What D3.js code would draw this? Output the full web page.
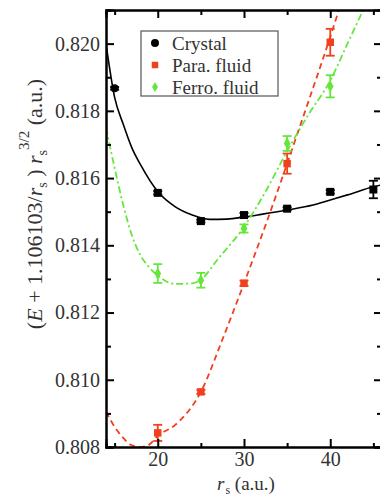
<!DOCTYPE html>
<html><head><meta charset="utf-8">
<script src="https://cdn.jsdelivr.net/npm/d3@7"></script>
<style>body{margin:0;background:#fff} svg{display:block}</style>
</head><body><svg id="c" width="380" height="496"></svg>
<script>
// ---- data ----
const crystalRs = [15, 20, 25, 30, 35, 40, 45];
const crystalVal = [0.81867, 0.81556, 0.81472, 0.81490, 0.81509, 0.81559, 0.81566];
const crystalErr = [0.00004, 0.00005, 0.00004, 0.00006, 0.00004, 0.00005, 0.00026];
const paraRs = [20, 25, 30, 35, 40];
const paraVal = [0.80842, 0.80964, 0.81287, 0.81643, 0.82004];
const paraErr = [0.00024, 0.00006, 0.00008, 0.00030, 0.00040];
const ferroRs = [20, 25, 30, 35, 40];
const ferroVal = [0.81316, 0.81296, 0.81450, 0.81703, 0.81873];
const ferroErr = [0.00028, 0.00022, 0.00012, 0.00022, 0.00033];

// fit curves
const crystalFitRs = [14, 15, 16, 17, 18, 20, 22, 24, 26, 28, 30, 32, 35, 38, 40, 42, 45, 46];
const crystalFitVal = [0.8200, 0.8184, 0.8176, 0.8169, 0.8164, 0.8156, 0.81515, 0.8149, 0.81477, 0.81478, 0.81484, 0.81492, 0.81505, 0.8152, 0.81535, 0.8155, 0.81574, 0.8158];
const paraFitRs = [14, 15, 16, 17, 18, 19, 20, 22, 25, 27.5, 30, 32.5, 35, 37.5, 40, 41];
const paraFitVal = [0.80905, 0.8086, 0.80827, 0.80805, 0.8080, 0.80807, 0.80833, 0.80865, 0.80964, 0.8112, 0.81287, 0.8146, 0.81643, 0.8183, 0.8202, 0.8210];
const ferroFitRs = [14, 15, 16, 17, 18, 19, 20, 22, 24, 25, 27, 30, 32.5, 35, 37.5, 40, 42, 44];
const ferroFitVal = [0.8175, 0.8163, 0.8152, 0.8143, 0.8137, 0.81335, 0.8131, 0.81285, 0.81287, 0.81298, 0.8136, 0.81455, 0.8156, 0.8168, 0.8179, 0.8189, 0.8200, 0.8211];

const xTicksMajor = [20, 30, 40];
const xTicksMinor = [15, 25, 35, 45];
const yTicksMajor = [0.808, 0.810, 0.812, 0.814, 0.816, 0.818, 0.820];
const yTicksMinor = [0.809, 0.811, 0.813, 0.815, 0.817, 0.819];
const legendLabels = ["Crystal", "Para. fluid", "Ferro. fluid"];

const RED = "#f0401e", GREEN = "#66e63c", BLACK = "#000";
const FONT = '"Liberation Serif","DejaVu Serif","Times New Roman",serif';

// ---- layout ----
const L = 106, R = 382, T = 10, B = 447;
const svg = d3.select("#c");
const x = d3.scaleLinear().domain([14, 46]).range([L, R]);
const y = d3.scaleLinear().domain([0.808, 0.821]).range([B, T]);

svg.append("defs").append("clipPath").attr("id", "clip")
  .append("rect").attr("x", L).attr("y", T).attr("width", R - L).attr("height", B - T);

const plot = svg.append("g").attr("clip-path", "url(#clip)");
const line = d3.line().x(d => x(d[0])).y(d => y(d[1])).curve(d3.curveMonotoneX);

plot.append("path").datum(crystalFitRs.map((r, i) => [r, crystalFitVal[i]]))
  .attr("d", line).attr("fill", "none").attr("stroke", BLACK).attr("stroke-width", 1.6);
plot.append("path").datum(paraFitRs.map((r, i) => [r, paraFitVal[i]]))
  .attr("d", line).attr("fill", "none").attr("stroke", RED).attr("stroke-width", 1.8)
  .attr("stroke-dasharray", "6,4");
plot.append("path").datum(ferroFitRs.map((r, i) => [r, ferroFitVal[i]]))
  .attr("d", line).attr("fill", "none").attr("stroke", GREEN).attr("stroke-width", 1.8)
  .attr("stroke-dasharray", "7,3,2,3");

function errorBars(rs, vals, errs, color) {
  const g = plot.append("g").attr("stroke", color).attr("stroke-width", 1.8);
  rs.forEach((r, i) => {
    const cx = x(r), y0 = y(vals[i] - errs[i]), y1 = y(vals[i] + errs[i]);
    g.append("line").attr("x1", cx).attr("x2", cx).attr("y1", y0).attr("y2", y1);
    g.append("line").attr("x1", cx - 4.5).attr("x2", cx + 4.5).attr("y1", y0).attr("y2", y0);
    g.append("line").attr("x1", cx - 4.5).attr("x2", cx + 4.5).attr("y1", y1).attr("y2", y1);
  });
}
errorBars(paraRs, paraVal, paraErr, RED);
errorBars(ferroRs, ferroVal, ferroErr, GREEN);
errorBars(crystalRs, crystalVal, crystalErr, BLACK);

// markers
plot.selectAll(".cm").data(crystalRs).enter().append("path")
  .attr("d", (r, i) => i === 0 ? d3.symbol(d3.symbolCircle, 50)() : d3.symbol(d3.symbolSquare, 64)())
  .attr("transform", (r, i) => `translate(${x(r)},${y(crystalVal[i])})`).attr("fill", BLACK);
plot.selectAll(".pm").data(paraRs).enter().append("path")
  .attr("d", d3.symbol(d3.symbolSquare, 56)())
  .attr("transform", (r, i) => `translate(${x(r)},${y(paraVal[i])})`).attr("fill", RED);
plot.selectAll(".fm").data(ferroRs).enter().append("path")
  .attr("d", d3.symbol(d3.symbolDiamond, 40)())
  .attr("transform", (r, i) => `translate(${x(r)},${y(ferroVal[i])})`).attr("fill", GREEN);

// ---- axes ----
const ax = svg.append("g");
ax.append("g").attr("transform", `translate(0,${B})`)
  .call(d3.axisBottom(x).tickValues(xTicksMajor).tickSize(-8).tickPadding(5).tickFormat(d3.format("d")));
ax.append("g").attr("transform", `translate(0,${B})`)
  .call(d3.axisBottom(x).tickValues(xTicksMinor).tickSize(-4).tickFormat(""));
ax.append("g").attr("transform", `translate(0,${T})`)
  .call(d3.axisTop(x).tickValues(xTicksMajor).tickSize(-8).tickFormat(""));
ax.append("g").attr("transform", `translate(0,${T})`)
  .call(d3.axisTop(x).tickValues(xTicksMinor).tickSize(-5).tickFormat(""));
ax.append("g").attr("transform", `translate(${L},0)`)
  .call(d3.axisLeft(y).tickValues(yTicksMajor).tickSize(-8).tickPadding(6).tickFormat(d3.format(".3f")));
ax.append("g").attr("transform", `translate(${L},0)`)
  .call(d3.axisLeft(y).tickValues(yTicksMinor).tickSize(-5).tickFormat(""));
ax.append("g").attr("transform", `translate(${R},0)`)
  .call(d3.axisRight(y).tickValues(yTicksMajor).tickSize(-8).tickFormat(""));
ax.append("g").attr("transform", `translate(${R},0)`)
  .call(d3.axisRight(y).tickValues(yTicksMinor).tickSize(-5).tickFormat(""));
ax.selectAll("g").attr("font-family", FONT).attr("font-size", 20);
ax.selectAll(".domain").attr("stroke", "#000").attr("stroke-width", 2);
ax.selectAll(".tick line").attr("stroke", "#000").attr("stroke-width", 2);
ax.selectAll("text").attr("font-family", FONT).attr("font-size", 20).attr("fill", "#333");

// axis titles
const xt = svg.append("text").attr("x", 246).attr("y", 490).attr("text-anchor", "middle")
  .attr("font-family", FONT).attr("font-size", 19).attr("fill", "#333");
xt.append("tspan").attr("font-style", "italic").text("r");
xt.append("tspan").attr("font-size", 12).attr("dx", 1).attr("dy", 4).text("s");
xt.append("tspan").attr("dy", -4).text(" (a.u.)");

const yt = svg.append("text").attr("transform", "translate(42,204) rotate(-90)")
  .attr("text-anchor", "middle").attr("font-family", FONT).attr("font-size", 22).attr("fill", "#333");
yt.append("tspan").text("(");
yt.append("tspan").attr("font-style", "italic").text("E");
yt.append("tspan").text(" + 1.106103/");
yt.append("tspan").attr("font-style", "italic").text("r");
yt.append("tspan").attr("font-size", 14).attr("dy", 5).text("s");
yt.append("tspan").attr("dy", -5).text(" ) ");
yt.append("tspan").attr("font-style", "italic").text("r");
yt.append("tspan").attr("font-size", 14).attr("dy", 5).text("s");
yt.append("tspan").attr("font-size", 15).attr("dy", -18).text("3/2");
yt.append("tspan").attr("dy", 13).text(" (a.u.)");

// legend
const lg = svg.append("g");
lg.append("rect").attr("x", 141).attr("y", 31).attr("width", 137).attr("height", 65)
  .attr("fill", "#fff").attr("stroke", "#555").attr("stroke-width", 1.2);
const legSyms = [d3.symbol(d3.symbolCircle, 50)(), d3.symbol(d3.symbolSquare, 42)(), d3.symbol(d3.symbolDiamond, 30)()];
const legCols = [BLACK, RED, GREEN];
const legY = [43, 65, 87];
legendLabels.forEach((t, i) => {
  lg.append("path").attr("d", legSyms[i]).attr("transform", `translate(155,${legY[i]})`).attr("fill", legCols[i]);
  lg.append("text").attr("x", 172).attr("y", legY[i] + 7).attr("font-family", FONT)
    .attr("font-size", 19).attr("fill", "#333").text(t);
});
</script></body></html>
